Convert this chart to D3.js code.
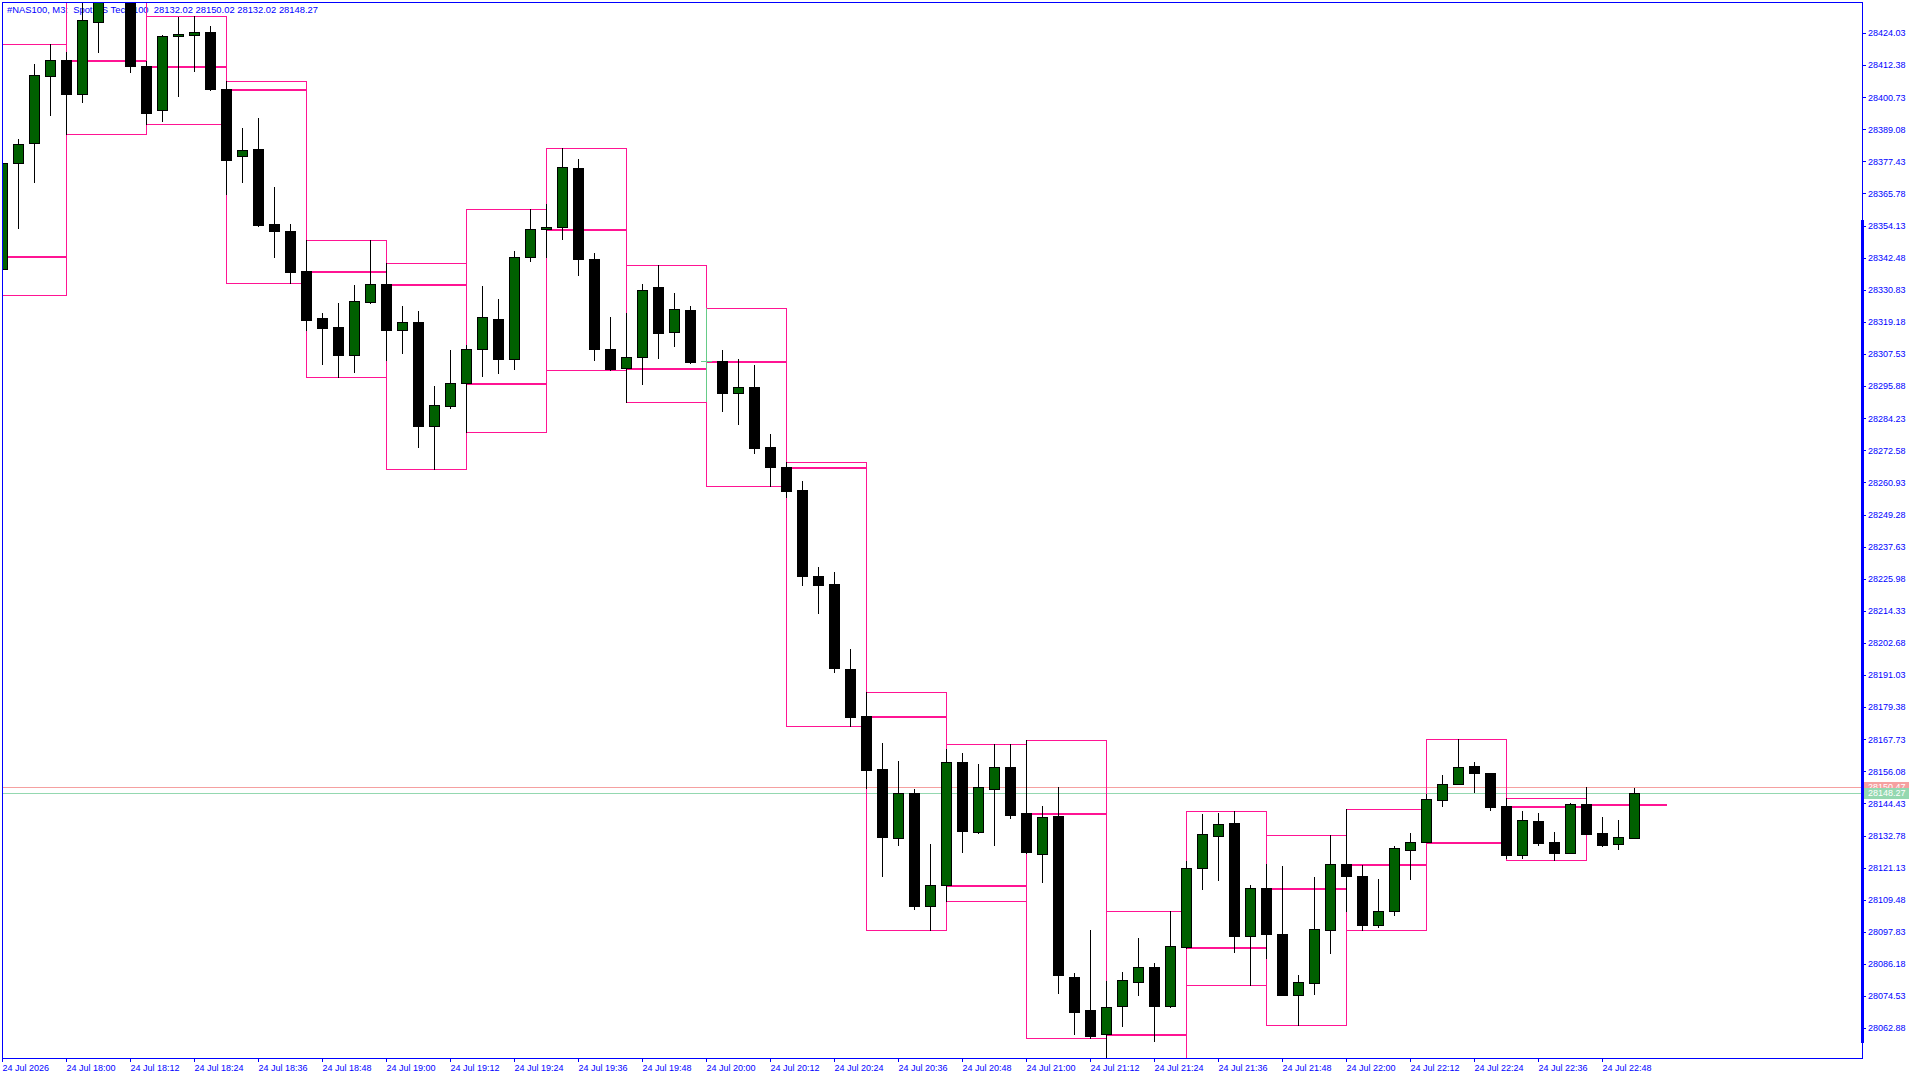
<!DOCTYPE html>
<html><head><meta charset="utf-8">
<script src="https://cdn.jsdelivr.net/npm/d3@7"></script>
<style>html,body{margin:0;padding:0;background:#fff;overflow:hidden}svg{display:block}</style>
</head><body><svg id="c" width="1920" height="1080"></svg>
<script>
// ---------------- DATA ----------------
const symbolTitle = "#NAS100, M3:  Spot US Tech 100  28132.02 28150.02 28132.02 28148.27";
const firstBarTime = [2026, 6, 24, 17, 45]; // 24 Jul 2026 17:45 (bar just left of the view)
const barMinutes = 3;
const boxMinutes = 15;

const opens = [28343.21,28338.27,28376.74,28384.00,28408.53,28414.12,28401.78,28428.13,28443.27,28440.00,
28412.16,28395.98,28422.83,28423.20,28424.28,28403.60,28379.28,28381.82,28354.60,28352.17,
28337.65,28320.49,28317.22,28307.28,28326.51,28332.82,28316.35,28319.03,28281.51,28288.77,
28296.90,28309.45,28320.12,28305.82,28342.84,28352.79,28353.51,28374.93,28341.90,28309.23,
28302.63,28306.26,28331.85,28315.40,28323.39,28304.88,28304.88,28293.27,28295.44,28273.67,
28266.48,28258.24,28226.96,28223.95,28193.21,28176.15,28156.91,28131.94,28148.17,28107.27,
28114.74,28159.49,28134.23,28149.73,28157.49,28140.98,28126.21,28139.86,28081.42,28069.37,
28060.74,28070.79,28079.72,28084.94,28070.79,28092.20,28120.87,28132.71,28137.21,28096.41,
28113.62,28096.92,28075.00,28079.14,28098.37,28122.33,28117.97,28100.19,28105.27,28127.63,
28130.31,28145.55,28151.36,28157.89,28155.35,28143.38,28125.81,28137.93,28130.31,28126.32,
28144.10,28133.58,28129.58,28132.02];
const highs = [28345.27,28377.94,28385.56,28412.78,28420.04,28417.24,28437.82,28446.90,28452.00,28442.00,
28413.87,28423.41,28429.95,28430.20,28426.57,28406.50,28389.55,28393.18,28368.14,28354.71,
28348.90,28322.30,28326.04,28332.57,28348.90,28340.45,28324.95,28323.14,28295.92,28308.98,
28310.80,28332.21,28327.49,28344.91,28360.05,28361.97,28382.18,28378.30,28344.08,28320.96,
28322.41,28332.93,28339.83,28329.67,28324.95,28324.33,28308.98,28305.61,28303.54,28278.50,
28268.44,28261.40,28230.26,28228.41,28200.39,28184.75,28166.39,28159.78,28149.62,28129.66,
28164.24,28162.65,28158.80,28165.81,28165.81,28167.26,28143.41,28150.31,28082.88,28098.52,
28079.97,28083.13,28095.47,28086.40,28105.38,28123.52,28140.58,28140.94,28141.67,28114.70,
28122.44,28121.71,28082.04,28117.72,28132.85,28142.29,28122.07,28116.88,28128.97,28133.69,
28147.84,28154.74,28167.69,28159.45,28155.35,28146.28,28141.67,28140.94,28134.05,28144.40,
28150.38,28139.49,28138.40,28150.02];
const lows = [28328.83,28337.29,28353.37,28370.06,28394.38,28387.27,28399.10,28417.24,28437.50,28409.98,
28390.89,28392.20,28401.27,28410.35,28403.20,28365.71,28370.06,28354.10,28342.84,28333.19,
28316.24,28303.90,28299.29,28301.11,28326.04,28305.35,28308.00,28273.89,28265.68,28288.04,
28279.11,28299.65,28300.74,28302.19,28341.39,28342.84,28349.38,28336.31,28305.46,28301.72,
28290.29,28296.64,28306.08,28310.43,28304.37,28290.36,28286.84,28282.23,28271.71,28259.51,
28255.78,28223.80,28213.60,28191.94,28172.41,28150.02,28118.19,28129.51,28106.10,28098.37,
28109.01,28126.65,28133.83,28129.51,28139.27,28126.43,28116.01,28075.69,28060.63,28059.18,
28051.80,28063.75,28075.00,28058.30,28070.40,28091.84,28113.47,28116.74,28090.39,28078.41,
28088.43,28075.00,28064.00,28075.36,28090.24,28105.49,28098.37,28099.46,28104.03,28117.10,
28130.31,28143.59,28151.36,28148.68,28142.14,28124.61,28124.72,28129.44,28124.00,28126.25,
28133.30,28128.97,28127.99,28132.02];
const closes = [28338.27,28376.74,28383.64,28408.68,28414.12,28402.00,28428.64,28443.27,28440.00,28412.16,
28395.10,28422.94,28423.67,28424.28,28403.60,28378.05,28381.46,28354.46,28352.06,28337.40,
28320.05,28317.07,28307.28,28326.66,28332.82,28316.35,28319.03,28281.51,28288.91,28296.90,
28309.23,28320.85,28305.82,28342.62,28352.79,28353.51,28375.29,28341.90,28309.23,28302.19,
28306.33,28330.65,28315.26,28323.75,28304.73,28304.88,28293.48,28295.44,28273.52,28266.63,
28257.95,28226.81,28223.80,28193.39,28175.86,28156.62,28132.38,28148.17,28107.27,28114.74,
28159.34,28134.52,28150.31,28157.49,28140.40,28126.65,28139.42,28082.30,28068.79,28060.19,
28070.43,28080.23,28084.94,28070.79,28092.57,28120.87,28133.21,28136.84,28096.41,28113.62,
28097.14,28075.00,28079.50,28098.74,28122.33,28117.97,28100.19,28105.27,28128.13,28130.31,
28145.92,28151.36,28157.53,28155.35,28143.23,28125.81,28138.29,28130.17,28126.54,28144.10,
28133.43,28129.44,28132.13,28148.27];

const bidPrice = 28148.27;
const askPrice = 28150.47;

const priceTicks = [28424.03,28412.38,28400.73,28389.08,28377.43,28365.78,28354.13,28342.48,28330.83,28319.18,
28307.53,28295.88,28284.23,28272.58,28260.93,28249.28,28237.63,28225.98,28214.33,28202.68,
28191.03,28179.38,28167.73,28156.08,28144.43,28132.78,28121.13,28109.48,28097.83,28086.18,
28074.53,28062.88];

const timeTickTimes = ["17:48","18:00","18:12","18:24","18:36","18:48","19:00","19:12","19:24","19:36",
"19:48","20:00","20:12","20:24","20:36","20:48","21:00","21:12","21:24","21:36",
"21:48","22:00","22:12","22:24","22:36","22:48"];
const timeTickLabels = ["24 Jul 2026","24 Jul 18:00","24 Jul 18:12","24 Jul 18:24","24 Jul 18:36","24 Jul 18:48",
"24 Jul 19:00","24 Jul 19:12","24 Jul 19:24","24 Jul 19:36","24 Jul 19:48","24 Jul 20:00","24 Jul 20:12",
"24 Jul 20:24","24 Jul 20:36","24 Jul 20:48","24 Jul 21:00","24 Jul 21:12","24 Jul 21:24","24 Jul 21:36",
"24 Jul 21:48","24 Jul 22:00","24 Jul 22:12","24 Jul 22:24","24 Jul 22:36","24 Jul 22:48"];

// ---------------- STYLE / LAYOUT ----------------
const BLUE = "#0000ff", BULL = "#006000", BEAR = "#000000", DOJI = "#66cc88";
const PINK = "#ff1493", ASK = "#f5a0a0", BID = "#94d8b0";
const FONT = "'Liberation Sans', Arial, sans-serif";
const L = 2, T = 2, R = 1862, B = 1058;

const t0 = new Date(...firstBarTime);
const bars = opens.map((o, i) => ({
  t: d3.timeMinute.offset(t0, i * barMinutes), o, h: highs[i], l: lows[i], c: closes[i]
}));

const dayAt = s => { const [hh, mm] = s.split(":").map(Number); return new Date(2026, 6, 24, hh, mm); };

const x = d3.scaleTime().domain([dayAt("17:48"), dayAt("22:54")]).range([2, 1634]);
const y = d3.scaleLinear().domain([28052.03, 28435.28]).range([B, T]);

const svg = d3.select("#c");
svg.append("rect").attr("width", 1920).attr("height", 1080).attr("fill", "#fff");

svg.append("defs").append("clipPath").attr("id", "plot")
  .append("rect").attr("x", L).attr("y", T).attr("width", R - L).attr("height", B - T);

// title
svg.append("text").attr("x", 7).attr("y", 13)
  .attr("font-family", FONT).attr("font-size", "9.4px").attr("fill", BLUE)
  .style("white-space", "pre").text(symbolTitle);

const plot = svg.append("g").attr("clip-path", "url(#plot)").attr("shape-rendering", "crispEdges");
const py = p => Math.round(y(p)) + 0.5;

// bid / ask lines
plot.append("line").attr("x1", L).attr("x2", R).attr("y1", py(askPrice)).attr("y2", py(askPrice)).attr("stroke", ASK);
plot.append("line").attr("x1", L).attr("x2", R).attr("y1", py(bidPrice)).attr("y2", py(bidPrice)).attr("stroke", BID);

// 15-minute boxes derived from the bars
const boxes = d3.groups(bars, d => Math.floor((d.t.getHours() * 60 + d.t.getMinutes()) / boxMinutes))
  .map(([k, arr]) => ({
    start: arr[0].t, end: d3.timeMinute.offset(arr[0].t, boxMinutes),
    open: arr[0].o, high: d3.max(arr, d => d.h), low: d3.min(arr, d => d.l),
    complete: arr.length === boxMinutes / barMinutes
  }));

const bx = d => Math.round(x(d)) + 0.5;
plot.selectAll("rect.box").data(boxes.filter(b => b.complete)).join("rect").attr("class", "box")
  .attr("x", d => bx(d.start)).attr("y", d => py(d.high))
  .attr("width", d => bx(d.end) - bx(d.start)).attr("height", d => py(d.low) - py(d.high))
  .attr("fill", "none").attr("stroke", PINK).attr("stroke-width", 1);
plot.selectAll("line.openline").data(boxes).join("line").attr("class", "openline")
  .attr("x1", d => bx(d.start)).attr("x2", d => bx(d.end))
  .attr("y1", d => Math.round(y(d.open)) + 0.5).attr("y2", d => Math.round(y(d.open)) + 0.5)
  .attr("stroke", PINK).attr("stroke-width", 2);

// candles
const cg = plot.selectAll("g.candle").data(bars).join("g").attr("class", "candle");
const colorOf = d => d.c > d.o ? BULL : (d.c < d.o ? BEAR : DOJI);
cg.append("line")
  .attr("x1", d => Math.round(x(d.t)) + 0.5).attr("x2", d => Math.round(x(d.t)) + 0.5)
  .attr("y1", d => Math.round(y(d.h))).attr("y2", d => Math.round(y(d.l)) + 1)
  .attr("stroke", d => d.c === d.o ? DOJI : "#000");
cg.filter(d => d.c !== d.o).append("rect")
  .attr("x", d => Math.round(x(d.t)) - 4.5).attr("width", 10)
  .attr("y", d => py(Math.max(d.o, d.c)))
  .attr("height", d => Math.max(1, py(Math.min(d.o, d.c)) - py(Math.max(d.o, d.c))))
  .attr("fill", colorOf).attr("stroke", "#000");
cg.filter(d => d.c === d.o).append("line")
  .attr("x1", d => Math.round(x(d.t)) - 5).attr("x2", d => Math.round(x(d.t)) + 6)
  .attr("y1", d => py(d.o)).attr("y2", d => py(d.o)).attr("stroke", DOJI);

// frame
svg.append("rect").attr("x", L + 0.5).attr("y", T + 0.5).attr("width", R - L).attr("height", B - T)
  .attr("fill", "none").attr("stroke", BLUE).attr("shape-rendering", "crispEdges");
svg.append("rect").attr("x", R - 1).attr("y", 220).attr("width", 3).attr("height", 823)
  .attr("fill", BLUE).attr("shape-rendering", "crispEdges");

// price axis
const yAxis = d3.axisRight(y).tickValues(priceTicks).tickSize(4).tickPadding(2).tickFormat(d3.format(".2f"));
const ya = svg.append("g").attr("transform", `translate(${R},0)`).call(yAxis);
ya.select(".domain").remove();
ya.attr("font-family", FONT).attr("font-size", "9px");
ya.selectAll("line").attr("stroke", BLUE).attr("shape-rendering", "crispEdges");
ya.selectAll("text").attr("fill", BLUE);

// time axis
const xAxis = d3.axisBottom(x).tickValues(timeTickTimes.map(dayAt)).tickSize(4).tickPadding(3)
  .tickFormat((d, i) => timeTickLabels[i]);
const xa = svg.append("g").attr("transform", `translate(0,${B})`).call(xAxis);
xa.select(".domain").remove();
xa.attr("font-family", FONT).attr("font-size", "9px").attr("text-anchor", "start");
xa.selectAll("line").attr("stroke", BLUE).attr("shape-rendering", "crispEdges");
xa.selectAll("text").attr("fill", BLUE).attr("x", 0);

// bid / ask price labels
[[askPrice, ASK], [bidPrice, BID]].forEach(([p, col]) => {
  const yy = Math.round(y(p));
  svg.append("rect").attr("x", R + 2).attr("y", yy - 5).attr("width", 45).attr("height", 11).attr("fill", col);
  svg.append("text").attr("x", R + 6).attr("y", yy).attr("dy", "0.34em")
    .attr("font-family", FONT).attr("font-size", "9px").attr("fill", "#fff").text(d3.format(".2f")(p));
});
</script>
</body></html>
